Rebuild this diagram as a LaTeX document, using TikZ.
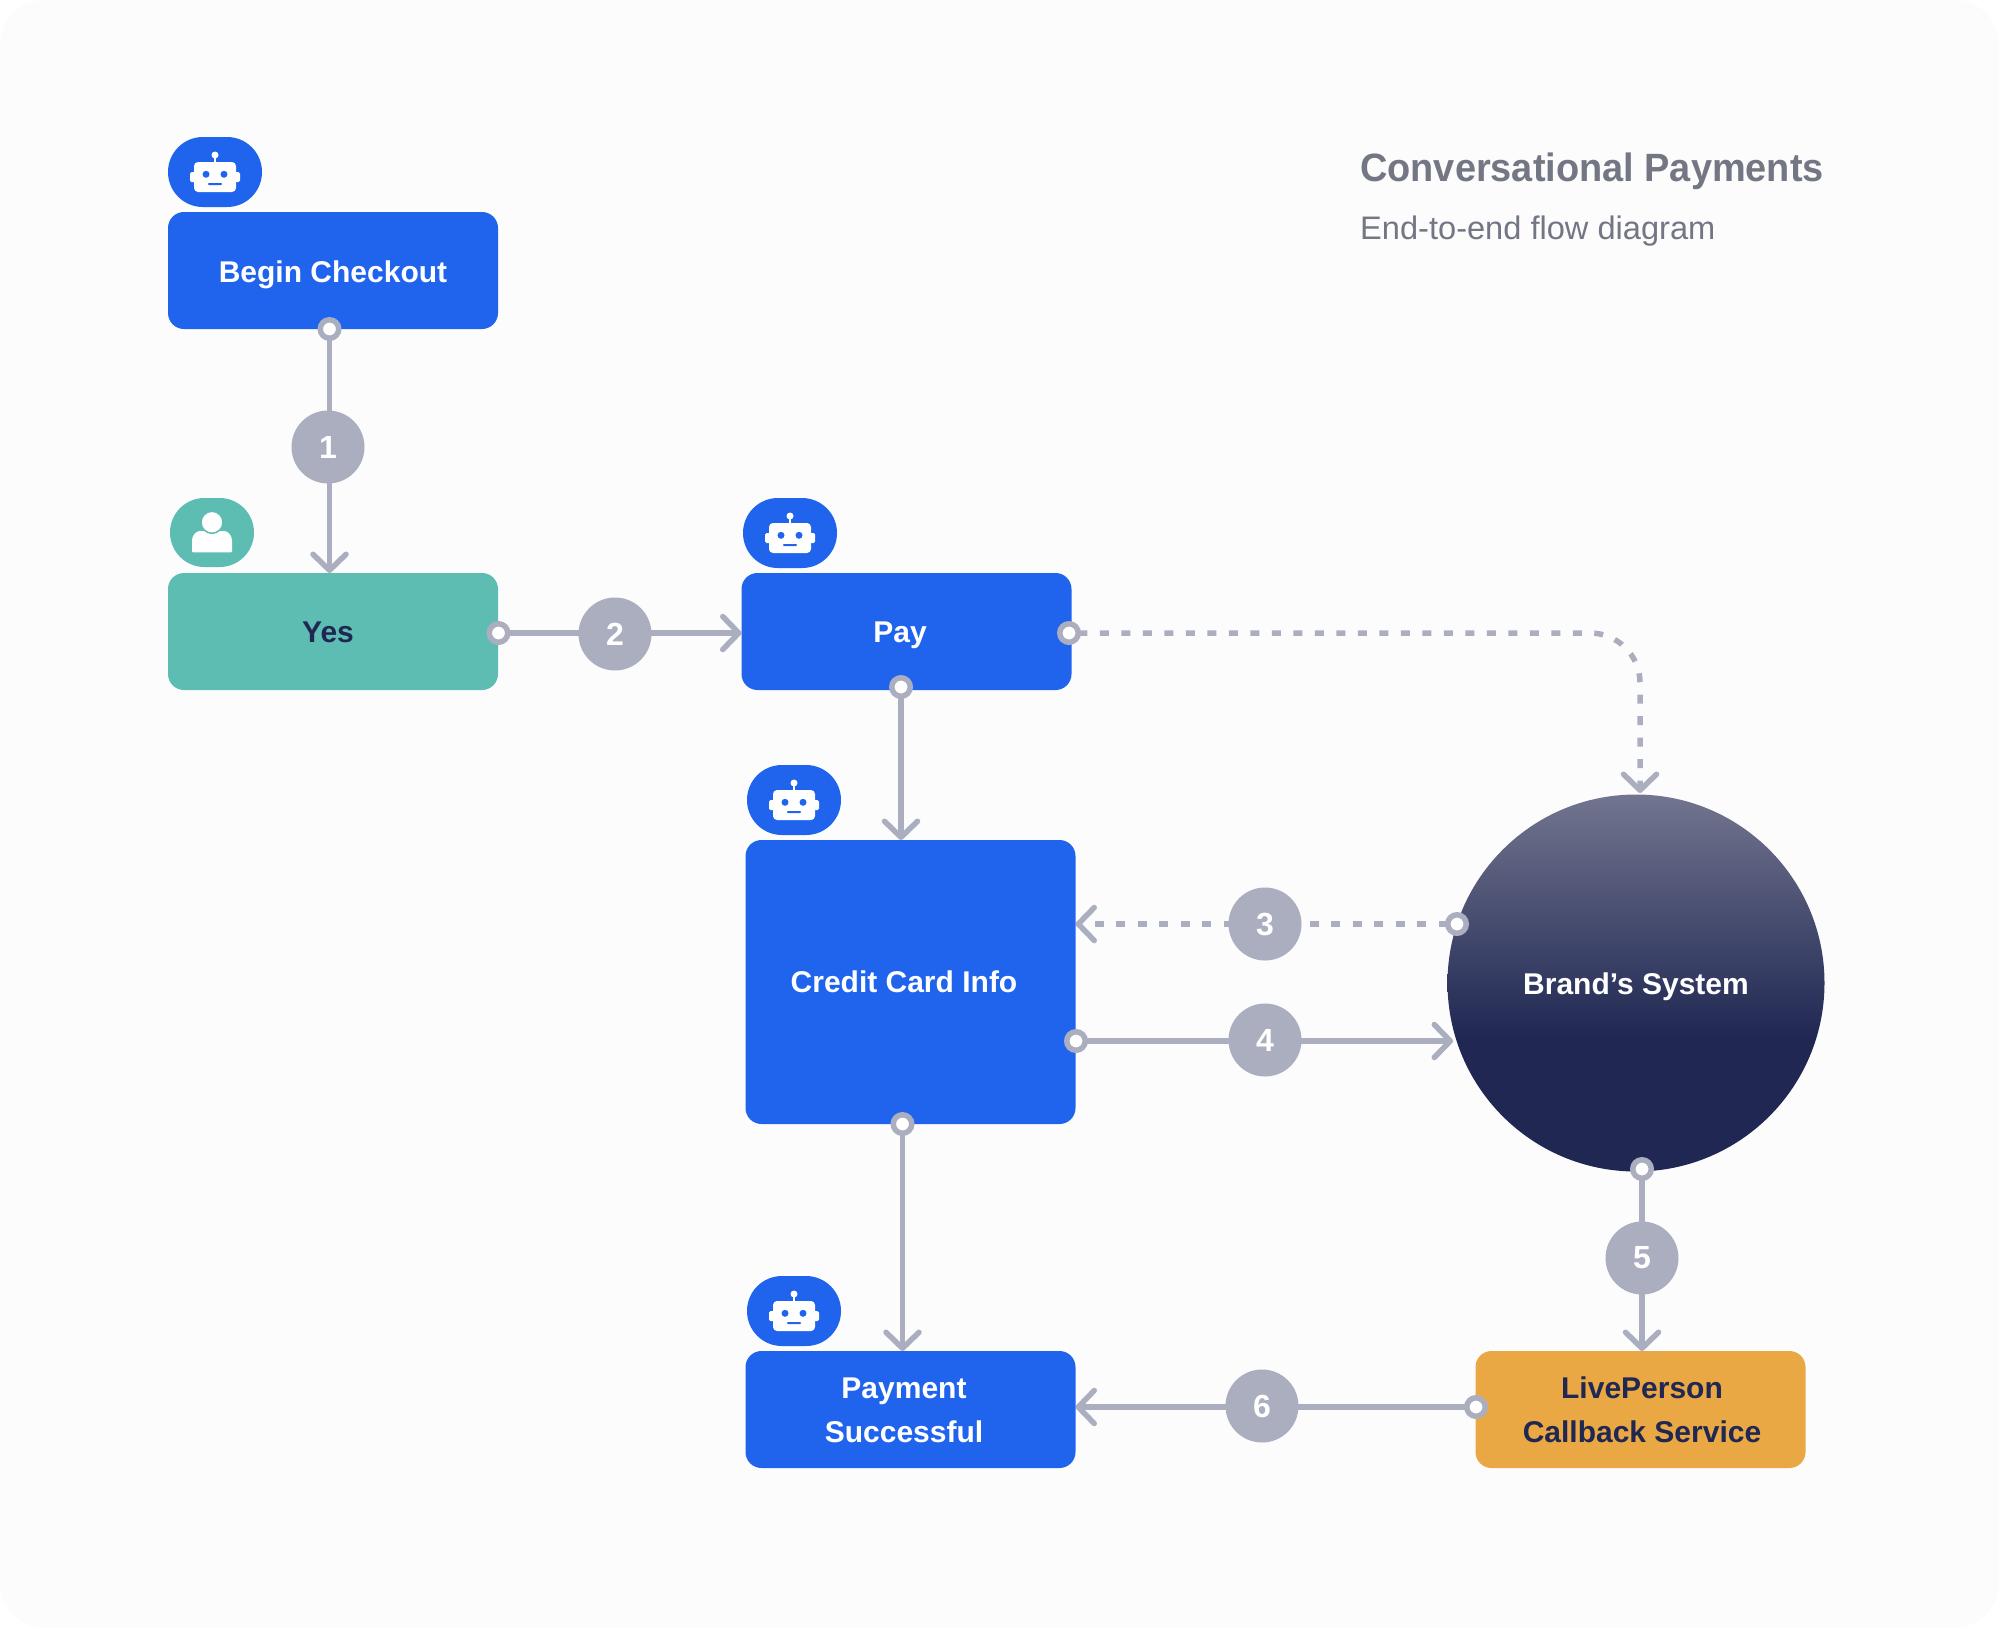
\documentclass[tikz,border=0pt]{standalone}
\usepackage{fontspec}
\setmainfont{Liberation Sans}
\newfontfamily\labelfont{Liberation Sans}
\newfontfamily\titlefont[FakeStretch=0.96]{Liberation Sans}
\usetikzlibrary{arrows.meta}
\definecolor{bgc}{HTML}{FCFCFD}
\definecolor{bluec}{HTML}{2064EE}
\definecolor{greenc}{HTML}{5EBDB2}
\definecolor{orangec}{HTML}{E9A844}
\definecolor{navyc}{HTML}{1F2752}
\definecolor{greyc}{HTML}{ABAEBF}
\definecolor{titlec}{HTML}{737784}
\definecolor{topc}{HTML}{72758F}
\pgfdeclarelayer{bg}
\pgfdeclarelayer{lines}
\pgfsetlayers{bg,lines,main}
\pgfdeclareverticalshading{brandshade}{100bp}{color(0bp)=(navyc); color(42.5bp)=(navyc); color(75bp)=(topc); color(100bp)=(topc)}
\tikzset{
  x=1pt,y=-1pt,
  flowbox/.style={rounded corners=16pt,minimum width=330pt,minimum height=117pt,inner sep=0pt,outer sep=0pt},
  bluebox/.style={flowbox,fill=bluec},
  greenbox/.style={flowbox,fill=greenc},
  orangebox/.style={flowbox,fill=orangec},
  lightlabel/.style={text=white,anchor=base,font=\labelfont\bfseries\fontsize{30}{44}\selectfont,align=center,inner sep=0pt},
  darklabel/.style={text=navyc,anchor=base,font=\labelfont\bfseries\fontsize{30}{44}\selectfont,align=center,inner sep=0pt},
  botbadge/.style={rounded corners=34.9pt,minimum width=94pt,minimum height=70pt,fill=bluec,inner sep=0pt},
  userbadge/.style={rounded corners=34.4pt,minimum width=84pt,minimum height=69pt,fill=greenc,inner sep=0pt},
  ringdot/.style={circle,draw=greyc,line width=5.5pt,fill=white,minimum size=18.5pt,inner sep=0pt,outer sep=0pt},
  numdot/.style={circle,fill=greyc,text=white,minimum size=73pt,inner sep=0pt,font=\labelfont\bfseries\fontsize{32}{32}\selectfont},
  flow/.style={draw=greyc,line width=5.5pt,-{Straight Barb[length=16pt,width=33pt,round]}},
  flowdash/.style={flow,dash pattern=on 9pt off 12.5pt},
  roboticon/.pic={
    \fill[white,rounded corners=1.5pt] (-25,0) rectangle (25,10);
    \fill[white,rounded corners=4pt] (-21,-10) rectangle (21,20);
    \fill[white] (-1,-14) rectangle (1,-9);
    \fill[white] (0,-17) circle[radius=3.5pt];
    \fill[bluec] (-9,2.3) circle[radius=3.5pt];
    \fill[bluec] (9,2.3) circle[radius=3.5pt];
    \fill[bluec,rounded corners=0.8pt] (-7,11) rectangle (7,13);
  },
  usericon/.pic={
    \fill[white,rounded corners=1pt] (-20,19.8) -- (-20,9) .. controls (-20,3) and (-16,-1.5) .. (-11,-1.5) -- (11,-1.5) .. controls (16,-1.5) and (20,3) .. (20,9) -- (20,19.8) -- cycle;
    \fill[white,draw=greenc,line width=1.5pt] (0,-10.2) circle[radius=11pt];
  },
}
\begin{document}
\begin{tikzpicture}
\useasboundingbox (0,0) rectangle (1999,1628);
\begin{pgfonlayer}{bg}
  \fill[white] (0,0) rectangle (1999,1628);
  \fill[bgc,rounded corners=45pt] (0,0) rectangle (1999,1628);
\end{pgfonlayer}

% title
\node[anchor=base west,inner sep=0pt,text=titlec,font=\titlefont\bfseries\fontsize{39.5}{40}\selectfont] (title) at (1360,181) {Conversational Payments};
\node[anchor=base west,inner sep=0pt,text=titlec,font=\fontsize{32.6}{34}\selectfont] (subtitle) at (1360,239) {End-to-end flow diagram};

% boxes
\node[bluebox] (begin) at (333,270.5) {};
\node[greenbox] (yes) at (333,631.5) {};
\node[bluebox] (pay) at (906.5,631.5) {};
\node[bluebox,minimum height=284pt] (card) at (910.5,982) {};
\node[bluebox] (done) at (910.5,1409.5) {};
\node[orangebox] (live) at (1640.5,1409.5) {};
\node[circle,minimum size=377pt,inner sep=0pt,outer sep=0pt,shading=brandshade] (brand) at (1636,983) {};

% box labels
\node[lightlabel] (tbegin) at (333,282) {Begin Checkout};
\node[darklabel] (tyes) at (328,642) {Yes};
\node[lightlabel] (tpay) at (900,642) {Pay};
\node[lightlabel] (tcard) at (904,992) {Credit Card Info};
\node[lightlabel] (tdone) at (904,1442) {Payment\\Successful};
\node[darklabel] (tlive) at (1642,1442) {LivePerson\\Callback Service};
\node[lightlabel] (tbrand) at (1636,994) {Brand’s System};

% badges
\node[botbadge] (b1) at (215,172) {};
\node[userbadge] (u1) at (212,532.5) {};
\node[botbadge] (b2) at (790,533) {};
\node[botbadge] (b3) at (794,800) {};
\node[botbadge] (b4) at (794,1311) {};
\pic at (b1) {roboticon};
\pic at (u1) {usericon};
\pic at (b2) {roboticon};
\pic at (b3) {roboticon};
\pic at (b4) {roboticon};

% connector ends
\node[ringdot] (r1) at (329.5,329) {};
\node[ringdot] (r2) at (498.5,633) {};
\node[ringdot] (rpay) at (1069,633) {};
\node[ringdot] (rpayb) at (901,687) {};
\node[ringdot] (r3) at (1457,924) {};
\node[ringdot] (r4) at (1076,1041) {};
\node[ringdot] (rcard) at (902.5,1124) {};
\node[ringdot] (r5) at (1642,1169) {};
\node[ringdot] (r6) at (1476,1407) {};
\coordinate (tbrandtop) at (1640,793);
\coordinate (tbrandleft) at (1453,1041);

% numbers
\node[numdot] (n1) at (328,447) {1};
\node[numdot] (n2) at (615,634) {2};
\node[numdot] (n3) at (1265,924) {3};
\node[numdot] (n4) at (1265,1040) {4};
\node[numdot] (n5) at (1642,1258) {5};
\node[numdot] (n6) at (1262,1406) {6};

% connectors
\begin{pgfonlayer}{lines}
  \draw[flow] (r1) -- (r1 |- yes.north);
  \draw[flow] (r2) -- (r2 -| pay.west);
  \draw[flow] (rpayb) -- (rpayb |- card.north);
  \draw[flowdash,rounded corners=50pt] (rpay) -- (rpay -| tbrandtop) -- (tbrandtop);
  \draw[flowdash] (r3) -- (r3 -| card.east);
  \draw[flow] (r4) -- (tbrandleft);
  \draw[flow] (rcard) -- (rcard |- done.north);
  \draw[flow] (r5) -- (r5 |- live.north);
  \draw[flow] (r6) -- (r6 -| done.east);
\end{pgfonlayer}
\end{tikzpicture}
\end{document}
